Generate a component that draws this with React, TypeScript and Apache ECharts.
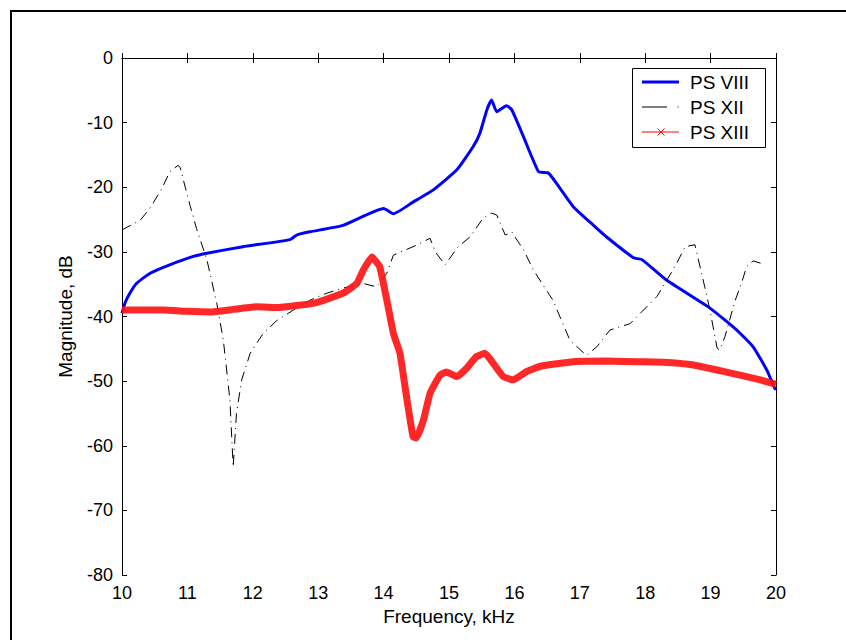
import React, { useEffect, useRef } from "react";
import * as echarts from "echarts";

// Frequency axis (kHz) and magnitude axis (dB)
const xTicks = [10, 11, 12, 13, 14, 15, 16, 17, 18, 19, 20];
const yTicks = [0, -10, -20, -30, -40, -50, -60, -70, -80];

const seriesNames = ["PS VIII", "PS XII", "PS XIII"];

// PS VIII (solid blue)
const freqVIII = [10.0, 10.05, 10.12, 10.22, 10.43, 10.73, 11.09, 11.3, 11.85, 12.57, 12.67, 12.87, 13.38, 14.0, 14.15, 14.45, 14.76, 15.12, 15.37, 15.47, 15.58, 15.65, 15.73, 15.88, 15.96, 16.14, 16.37, 16.52, 16.7, 16.9, 17.21, 17.41, 17.82, 17.95, 18.33, 18.99, 19.4, 19.65, 19.86, 19.98, 20.0];
const magVIII = [-39.5, -37.8, -36.4, -34.9, -33.3, -32.0, -30.7, -30.2, -29.2, -28.1, -27.4, -26.9, -25.9, -23.3, -24.1, -22.3, -20.4, -17.3, -13.7, -11.7, -8.0, -6.5, -8.3, -7.4, -8.0, -12.2, -17.6, -17.8, -20.2, -23.0, -25.9, -27.7, -30.9, -31.2, -34.4, -38.7, -42.1, -44.7, -48.3, -51.1, -51.3];

// PS XII (black dash-dot)
const freqXII = [10.0, 10.28, 10.43, 10.61, 10.73, 10.86, 10.89, 11.04, 11.14, 11.3, 11.45, 11.55, 11.65, 11.7, 11.75, 11.83, 11.96, 12.16, 12.37, 12.62, 12.87, 13.13, 13.38, 13.69, 13.89, 14.05, 14.15, 14.45, 14.71, 14.79, 14.94, 15.14, 15.32, 15.52, 15.65, 15.73, 15.86, 15.96, 16.01, 16.14, 16.29, 16.59, 16.85, 17.1, 17.26, 17.46, 17.77, 18.18, 18.33, 18.48, 18.61, 18.76, 18.91, 18.99, 19.1, 19.14, 19.22, 19.37, 19.48, 19.55, 19.65, 19.78];
const magXII = [-26.6, -25.1, -23.2, -20.2, -17.6, -16.6, -17.0, -22.8, -26.4, -31.3, -38.0, -43.7, -52.9, -63.3, -55.0, -49.8, -45.7, -42.6, -40.6, -39.0, -37.5, -36.4, -35.6, -34.9, -35.4, -33.3, -30.5, -29.2, -27.9, -30.0, -32.0, -29.2, -27.7, -24.8, -24.0, -24.3, -27.4, -26.9, -27.7, -29.7, -32.8, -37.5, -43.7, -46.0, -44.7, -42.1, -41.1, -36.9, -34.4, -31.8, -29.2, -28.9, -35.4, -39.0, -44.9, -45.2, -43.1, -37.7, -34.6, -32.3, -31.4, -31.8];

// PS XIII (red with x markers)
const freqXIII = [10.0, 10.3, 10.63, 11.0, 11.35, 11.7, 12.06, 12.4, 12.67, 12.9, 13.08, 13.38, 13.59, 13.69, 13.82, 13.94, 14.05, 14.15, 14.25, 14.35, 14.45, 14.5, 14.61, 14.71, 14.86, 14.96, 15.12, 15.27, 15.42, 15.55, 15.68, 15.83, 15.98, 16.19, 16.4, 16.9, 17.4, 17.92, 18.35, 18.74, 19.24, 19.76, 20.0];
const magXIII = [-39.0, -39.0, -39.0, -39.2, -39.3, -38.9, -38.5, -38.6, -38.3, -38.0, -37.5, -36.4, -34.9, -32.8, -30.8, -32.3, -37.5, -42.6, -45.7, -52.4, -58.6, -58.8, -56.0, -51.9, -49.1, -48.6, -49.3, -48.0, -46.2, -45.7, -47.3, -49.3, -49.8, -48.5, -47.7, -47.0, -46.9, -47.0, -47.1, -47.5, -48.6, -49.8, -50.5];

const FONT = '"Liberation Sans", Arial, sans-serif';

const zip = (xs: number[], ys: number[]) => xs.map((x, i) => [x, ys[i]]);

export default function App() {
  const ref = useRef<HTMLDivElement>(null);
  useEffect(() => {
    const chart = echarts.init(ref.current!, null, { renderer: "svg" });
    const axisLine = { show: true, lineStyle: { color: "#000", width: 1 } };
    const axisTick = { show: true, inside: true, length: 5, lineStyle: { color: "#000" } };
    chart.setOption({
      animation: false,
      backgroundColor: "#fff",
      grid: { left: 122, top: 58, right: 70, bottom: 65, show: false },
      xAxis: [
        {
          type: "value",
          min: xTicks[0],
          max: xTicks[xTicks.length - 1],
          interval: 1,
          position: "bottom",
          axisLine,
          axisTick,
          splitLine: { show: false },
          axisLabel: { color: "#000", fontSize: 18, fontFamily: FONT, margin: 9 },
          name: "Frequency, kHz",
          nameLocation: "middle",
          nameGap: 27,
          nameTextStyle: { color: "#000", fontSize: 19, fontFamily: FONT },
        },
        {
          type: "value",
          min: xTicks[0],
          max: xTicks[xTicks.length - 1],
          interval: 1,
          position: "top",
          axisLine,
          axisTick,
          splitLine: { show: false },
          axisLabel: { show: false },
        },
      ],
      yAxis: [
        {
          type: "value",
          min: yTicks[yTicks.length - 1],
          max: yTicks[0],
          interval: 10,
          position: "left",
          axisLine,
          axisTick,
          splitLine: { show: false },
          axisLabel: { color: "#000", fontSize: 18, fontFamily: FONT, margin: 9 },
          name: "Magnitude, dB",
          nameLocation: "middle",
          nameGap: 47,
          nameTextStyle: { color: "#000", fontSize: 19, fontFamily: FONT },
        },
        {
          type: "value",
          min: yTicks[yTicks.length - 1],
          max: yTicks[0],
          interval: 10,
          position: "right",
          axisLine,
          axisTick,
          splitLine: { show: false },
          axisLabel: { show: false },
        },
      ],
      series: [
        {
          name: seriesNames[0],
          type: "line",
          xAxisIndex: 0,
          yAxisIndex: 0,
          data: zip(freqVIII, magVIII),
          symbol: "none",
          smooth: 0.15,
          lineStyle: { color: "#0000ff", width: 3 },
          z: 2,
        },
        {
          name: seriesNames[1],
          type: "line",
          xAxisIndex: 0,
          yAxisIndex: 0,
          data: zip(freqXII, magXII),
          symbol: "none",
          lineStyle: { color: "#000", width: 1, type: [10, 5, 1, 5] },
          z: 3,
        },
        {
          name: seriesNames[2],
          type: "line",
          xAxisIndex: 0,
          yAxisIndex: 0,
          data: zip(freqXIII, magXIII),
          symbol: "none",
          smooth: 0.12,
          lineStyle: { color: "#ff1010", width: 7, opacity: 0.9 },
          z: 4,
        },
      ],
      graphic: [
        {
          type: "rect",
          shape: { x: 11, y: 11, width: 900, height: 700 },
          style: { fill: "none", stroke: "#000", lineWidth: 2 },
          z: 0,
          silent: true,
        },
        {
          type: "group",
          z: 100,
          children: [
            {
              type: "rect",
              shape: { x: 632.5, y: 68.5, width: 133, height: 79 },
              style: { fill: "#fff", stroke: "#000", lineWidth: 1 },
            },
            { type: "line", shape: { x1: 642, y1: 82, x2: 679, y2: 82 }, style: { stroke: "#0000ff", lineWidth: 3 } },
            { type: "line", shape: { x1: 642, y1: 107, x2: 667, y2: 107 }, style: { stroke: "#000", lineWidth: 1 } },
            { type: "line", shape: { x1: 677.5, y1: 107, x2: 678.5, y2: 107 }, style: { stroke: "#000", lineWidth: 1 } },
            { type: "line", shape: { x1: 642, y1: 132, x2: 679, y2: 132 }, style: { stroke: "#ff0000", lineWidth: 1 } },
            { type: "line", shape: { x1: 657.5, y1: 128.5, x2: 664.5, y2: 135.5 }, style: { stroke: "#ff0000", lineWidth: 1 } },
            { type: "line", shape: { x1: 657.5, y1: 135.5, x2: 664.5, y2: 128.5 }, style: { stroke: "#ff0000", lineWidth: 1 } },
            { type: "text", x: 690, y: 82, style: { text: seriesNames[0], fill: "#000", fontSize: 19, fontFamily: FONT, verticalAlign: "middle" } },
            { type: "text", x: 690, y: 107, style: { text: seriesNames[1], fill: "#000", fontSize: 19, fontFamily: FONT, verticalAlign: "middle" } },
            { type: "text", x: 690, y: 132, style: { text: seriesNames[2], fill: "#000", fontSize: 19, fontFamily: FONT, verticalAlign: "middle" } },
          ],
        },
      ],
    });
    return () => chart.dispose();
  }, []);
  return (
    <div
      ref={ref}
      style={{ position: "fixed", left: 0, top: 0, width: 846, height: 640, background: "#fff" }}
    />
  );
}
